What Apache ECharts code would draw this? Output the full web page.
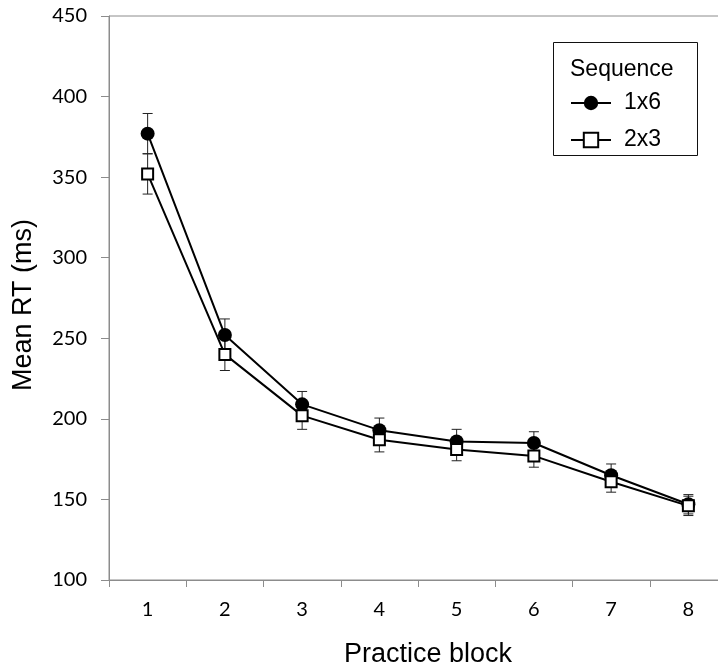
<!DOCTYPE html>
<html>
<head>
<meta charset="utf-8">
<script src="https://cdn.jsdelivr.net/npm/echarts@6/dist/echarts.min.js"></script>
<style>
html,body{margin:0;padding:0;background:#fff;}
#chart{width:718px;height:669px;}
</style>
</head>
<body>
<div id="chart"></div>
<script>
var categories = ['1','2','3','4','5','6','7','8'];
var seq1x6 = [377, 252, 209, 193, 186, 185, 165, 147];
var err1x6 = [12.5, 10, 8, 7.5, 7.5, 7, 7, 6];
var seq2x3 = [352, 240, 202, 187, 181, 177, 161, 146];
var err2x3 = [12.5, 10, 8.5, 7.5, 7, 7, 6.5, 6];
var yTicks = {min: 100, max: 450, interval: 50};

function errData(vals, errs) {
  return vals.map(function (v, i) { return [i, v - errs[i], v + errs[i]]; });
}
function renderErr(params, api) {
  var x = api.value(0);
  var lo = api.coord([x, api.value(1)]);
  var hi = api.coord([x, api.value(2)]);
  var w = 5;
  var st = {stroke: '#222', lineWidth: 1};
  return {
    type: 'group',
    children: [
      {type: 'line', shape: {x1: hi[0], y1: hi[1], x2: lo[0], y2: lo[1]}, style: st},
      {type: 'line', shape: {x1: hi[0] - w, y1: hi[1], x2: hi[0] + w, y2: hi[1]}, style: st},
      {type: 'line', shape: {x1: lo[0] - w, y1: lo[1], x2: lo[0] + w, y2: lo[1]}, style: st}
    ]
  };
}

var chart = echarts.init(document.getElementById('chart'), null, {renderer: 'canvas'});
var axisGray = '#8c8c8c';
var labelFont = 'Lato, "Open Sans", sans-serif';
var nameFont = '"Liberation Sans", Arial, sans-serif';
chart.setOption({
  animation: false,
  backgroundColor: '#fff',
  grid: {left: 109, width: 618, top: 16, height: 564, outerBoundsMode: 'none', containLabel: false, show: true, borderColor: axisGray, borderWidth: 1, backgroundColor: 'transparent'},
  xAxis: {
    type: 'category',
    data: categories,
    boundaryGap: true,
    name: 'Practice block',
    nameLocation: 'middle',
    nameGap: 61,
    nameTextStyle: {fontFamily: nameFont, fontSize: 27, color: '#000', padding: [0, 0, 0, 20]},
    axisLine: {lineStyle: {color: axisGray, width: 1}},
    axisTick: {show: true, length: 7, lineStyle: {color: axisGray}},
    axisLabel: {fontFamily: labelFont, fontSize: 20, color: '#000', margin: 20},
    splitLine: {show: false}
  },
  yAxis: {
    type: 'value',
    min: yTicks.min, max: yTicks.max, interval: yTicks.interval,
    name: 'Mean RT (ms)',
    nameLocation: 'middle',
    nameGap: 72,
    nameRotate: 90,
    nameTextStyle: {fontFamily: nameFont, fontSize: 27, color: '#000', padding: [0, 14, 0, 0]},
    axisLine: {show: true, lineStyle: {color: axisGray, width: 1}},
    axisTick: {show: true, length: 8, lineStyle: {color: axisGray}},
    axisLabel: {fontFamily: labelFont, fontSize: 20, color: '#000', margin: 22},
    splitLine: {show: false}
  },
  legend: {
    orient: 'vertical',
    left: 570, top: 91,
    itemWidth: 40, itemHeight: 18, itemGap: 13,
    padding: 0,
    lineStyle: {width: 2, color: '#000'},
    textStyle: {fontFamily: nameFont, fontSize: 23, color: '#000', lineHeight: 24, padding: [0, 0, 0, 8]},
    data: ['1x6', '2x3']
  },
  graphic: [
    {type: 'rect', left: 553, top: 42, z: 0, shape: {width: 144, height: 113}, style: {fill: '#fff', stroke: '#111', lineWidth: 1}},
    {type: 'text', left: 570, top: 58, z: 1, style: {text: 'Sequence', font: '23px "Liberation Sans", Arial, sans-serif', fill: '#000'}}
  ],
  series: [
    {type: 'custom', name: 'err1', renderItem: renderErr, data: errData(seq1x6, err1x6), z: 1, silent: true},
    {type: 'custom', name: 'err2', renderItem: renderErr, data: errData(seq2x3, err2x3), z: 1, silent: true},
    {
      type: 'line', name: '1x6', data: seq1x6, z: 3,
      symbol: 'circle', symbolSize: 14,
      lineStyle: {color: '#000', width: 2},
      itemStyle: {color: '#000', borderColor: '#000', borderWidth: 0}
    },
    {
      type: 'line', name: '2x3', data: seq2x3, z: 4,
      symbol: 'rect', symbolSize: 11,
      lineStyle: {color: '#000', width: 2},
      itemStyle: {color: '#fff', borderColor: '#000', borderWidth: 2}
    }
  ]
});
</script>
</body>
</html>
